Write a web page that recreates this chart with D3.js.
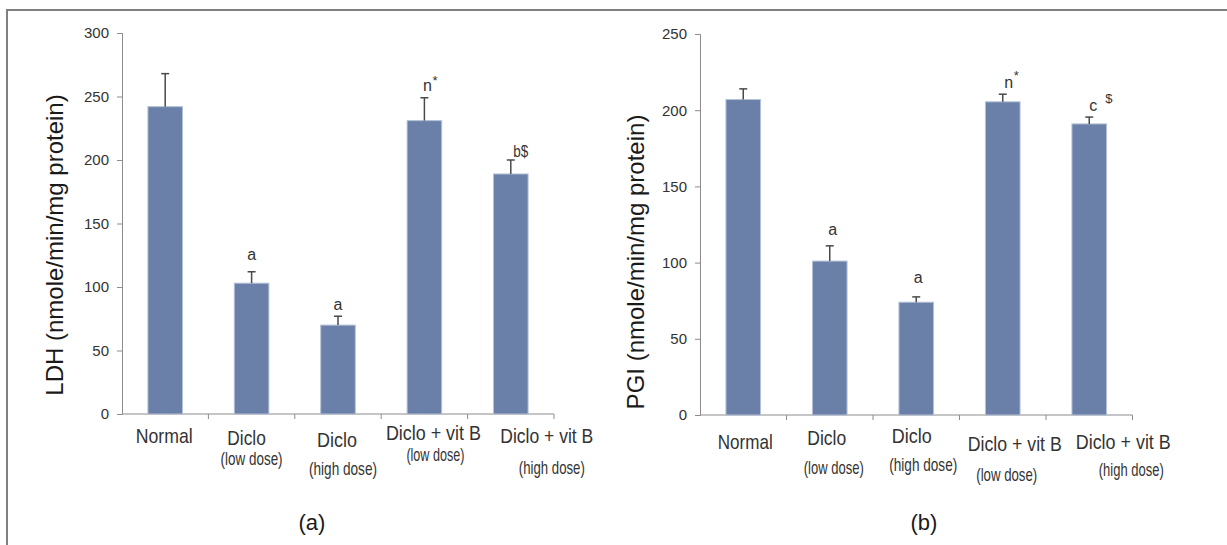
<!DOCTYPE html>
<html>
<head>
<meta charset="utf-8">
<script src="https://cdn.jsdelivr.net/npm/d3@7"></script>
<style>
  body { margin: 0; background: #fff; }
  svg { display: block; }
</style>
</head>
<body>
<div id="chart"></div>
<script>
// Group names (two text lines per category)
const categories = ["Normal", "Diclo", "Diclo", "Diclo + vit B", "Diclo + vit B"];
const doseLabels = ["", "(low dose)", "(high dose)", "(low dose)", "(high dose)"];

// Panel (a): LDH
const ldhMeans = [242, 103, 70, 231, 189];
const ldhErrors = [26, 9, 7, 18, 11];
const ldhMarks = ["", "a", "a", "n", "b$"];
const ldhSupers = ["", "", "", "*", ""];
const ldhTicks = [0, 50, 100, 150, 200, 250, 300];

// Panel (b): PGI
const pgiMeans = [207, 101, 74, 205.5, 191];
const pgiErrors = [7, 10, 3.5, 5, 4.5];
const pgiMarks = ["", "a", "a", "n", "c"];
const pgiSupers = ["", "", "", "*", "$"];
const pgiTicks = [0, 50, 100, 150, 200, 250];

const W = 1227, H = 545;
const barColor = "#6a80a8";
const axisColor = "#8c8c8c";
const textColor = "#333";
const font = "'Liberation Sans', Arial, sans-serif";

const svg = d3.select("#chart").append("svg")
  .attr("width", W)
  .attr("height", H);

// outer frame (left and top edge only)
svg.append("path")
  .attr("d", `M7,${H} V10 H${W}`)
  .attr("fill", "none")
  .attr("stroke", "#808080")
  .attr("stroke-width", 2);

const panels = [
  {
    means: ldhMeans, errors: ldhErrors, marks: ldhMarks, supers: ldhSupers, ticks: ldhTicks,
    title: "LDH (nmole/min/mg protein)", caption: "(a)",
    left: 122, right: 554, top: 33, bottom: 414,
    titleX: 63, titleY: 245, captionX: 312,
    labelDx: [-1, -5, -1, 9, 36], labelY: [443, 445, 447, 440, 443],
    labelW: [57, 38.5, 40, 95, 93],
    doseDx: [0, 0, 5, 11, 41], doseY: [0, 465, 475, 461, 474],
    doseW: [0, 62, 68, 58, 66],
    markDx: [0, 0, 0, 3, 10], markGap: [0, 12, 6, 7, 3],
    superDx: [0, 0, 0, 1, 0], superDy: -6
  },
  {
    means: pgiMeans, errors: pgiErrors, marks: pgiMarks, supers: pgiSupers, ticks: pgiTicks,
    title: "PGI  (nmole/min/mg protein)", caption: "(b)",
    left: 700, right: 1132.5, top: 34, bottom: 415,
    titleX: 644, titleY: 262, captionX: 924,
    labelDx: [2, -3, -4.5, 12, 34], labelY: [449, 445, 443, 451, 449],
    labelW: [55, 39, 40, 94, 95],
    doseDx: [0, 4, 7, 4, 42], doseY: [0, 474, 471, 481, 476],
    doseW: [0, 60, 68, 61, 65],
    markDx: [0, 3, 2, 6, 4], markGap: [0, 11, 14, 6, 6],
    superDx: [0, 0, 0, 1, 8], superDy: -8
  }
];

panels.forEach((p) => {
  const g = svg.append("g");

  const x = d3.scaleBand()
    .domain(d3.range(categories.length))
    .range([p.left, p.right])
    .paddingInner(0.6)
    .paddingOuter(0.3);

  const y = d3.scaleLinear()
    .domain([0, d3.max(p.ticks)])
    .range([p.bottom, p.top]);

  // Y axis
  const yAxis = g.append("g")
    .attr("transform", `translate(${p.left},0)`)
    .call(d3.axisLeft(y).tickValues(p.ticks).tickSize(5).tickPadding(8));
  yAxis.select(".domain").attr("stroke", axisColor);
  yAxis.selectAll(".tick line").attr("stroke", axisColor);
  yAxis.selectAll(".tick text")
    .attr("fill", textColor)
    .style("font-family", font)
    .style("font-size", "15px");

  // X axis: ticks between categories, Excel style
  const step = (p.right - p.left) / categories.length;
  const boundaries = d3.range(categories.length + 1).map((i) => p.left + i * step);
  g.append("line")
    .attr("x1", p.left).attr("x2", p.right)
    .attr("y1", p.bottom).attr("y2", p.bottom)
    .attr("stroke", axisColor);
  g.selectAll(".xtick")
    .data(boundaries.slice(1))
    .enter()
    .append("line")
    .attr("x1", (d) => d).attr("x2", (d) => d)
    .attr("y1", p.bottom).attr("y2", p.bottom + 5)
    .attr("stroke", axisColor);

  // Bars
  g.selectAll(".bar")
    .data(p.means)
    .enter()
    .append("rect")
    .attr("x", (d, i) => x(i))
    .attr("y", (d) => y(d))
    .attr("width", x.bandwidth())
    .attr("height", (d) => y(0) - y(d))
    .attr("fill", barColor)
    .attr("stroke", "#b4c0d6")
    .attr("stroke-width", 1);

  // Error bars (upper only)
  const cx = (i) => x(i) + x.bandwidth() / 2;
  p.means.forEach((m, i) => {
    const top = y(m + p.errors[i]);
    g.append("line")
      .attr("x1", cx(i)).attr("x2", cx(i))
      .attr("y1", y(m)).attr("y2", top)
      .attr("stroke", "#4a4a4a").attr("stroke-width", 1.5);
    g.append("line")
      .attr("x1", cx(i) - 4).attr("x2", cx(i) + 4)
      .attr("y1", top).attr("y2", top)
      .attr("stroke", "#4a4a4a").attr("stroke-width", 1.5);

    // significance letters
    if (p.marks[i]) {
      const mx = cx(i) + p.markDx[i];
      const my = top - p.markGap[i];
      const t = g.append("text")
        .attr("x", mx)
        .attr("y", my)
        .attr("text-anchor", "middle")
        .attr("fill", textColor)
        .style("font-family", font)
        .style("font-size", "16px")
        .text(p.marks[i]);
      if (p.marks[i].length > 1) t.attr("textLength", 15).attr("lengthAdjust", "spacingAndGlyphs");
      if (p.supers[i]) {
        g.append("text")
          .attr("x", mx + 4 + p.superDx[i])
          .attr("y", my + p.superDy)
          .attr("fill", textColor)
          .style("font-family", font)
          .style("font-size", "13px")
          .text(p.supers[i]);
      }
    }
  });

  // Category labels (condensed to the original widths)
  categories.forEach((c, i) => {
    const center = p.left + (i + 0.5) * step;
    g.append("text")
      .attr("x", center + p.labelDx[i] - p.labelW[i] / 2)
      .attr("y", p.labelY[i])
      .attr("textLength", p.labelW[i])
      .attr("lengthAdjust", "spacingAndGlyphs")
      .attr("fill", textColor)
      .style("font-family", font)
      .style("font-size", "21px")
      .text(c);
    if (doseLabels[i]) {
      g.append("text")
        .attr("x", center + p.doseDx[i] - p.doseW[i] / 2)
        .attr("y", p.doseY[i])
        .attr("textLength", p.doseW[i])
        .attr("lengthAdjust", "spacingAndGlyphs")
        .attr("fill", textColor)
        .style("font-family", font)
        .style("font-size", "19px")
        .text(doseLabels[i]);
    }
  });

  // Y axis title
  g.append("text")
    .attr("transform", `translate(${p.titleX},${p.titleY}) rotate(-90)`)
    .attr("text-anchor", "middle")
    .attr("fill", "#1a1a1a")
    .style("font-family", font)
    .style("font-size", "24px")
    .text(p.title);

  // Panel caption
  g.append("text")
    .attr("x", p.captionX)
    .attr("y", 530)
    .attr("text-anchor", "middle")
    .attr("fill", "#1a1a1a")
    .style("font-family", font)
    .style("font-size", "22px")
    .text(p.caption);
});
</script>
</body>
</html>
